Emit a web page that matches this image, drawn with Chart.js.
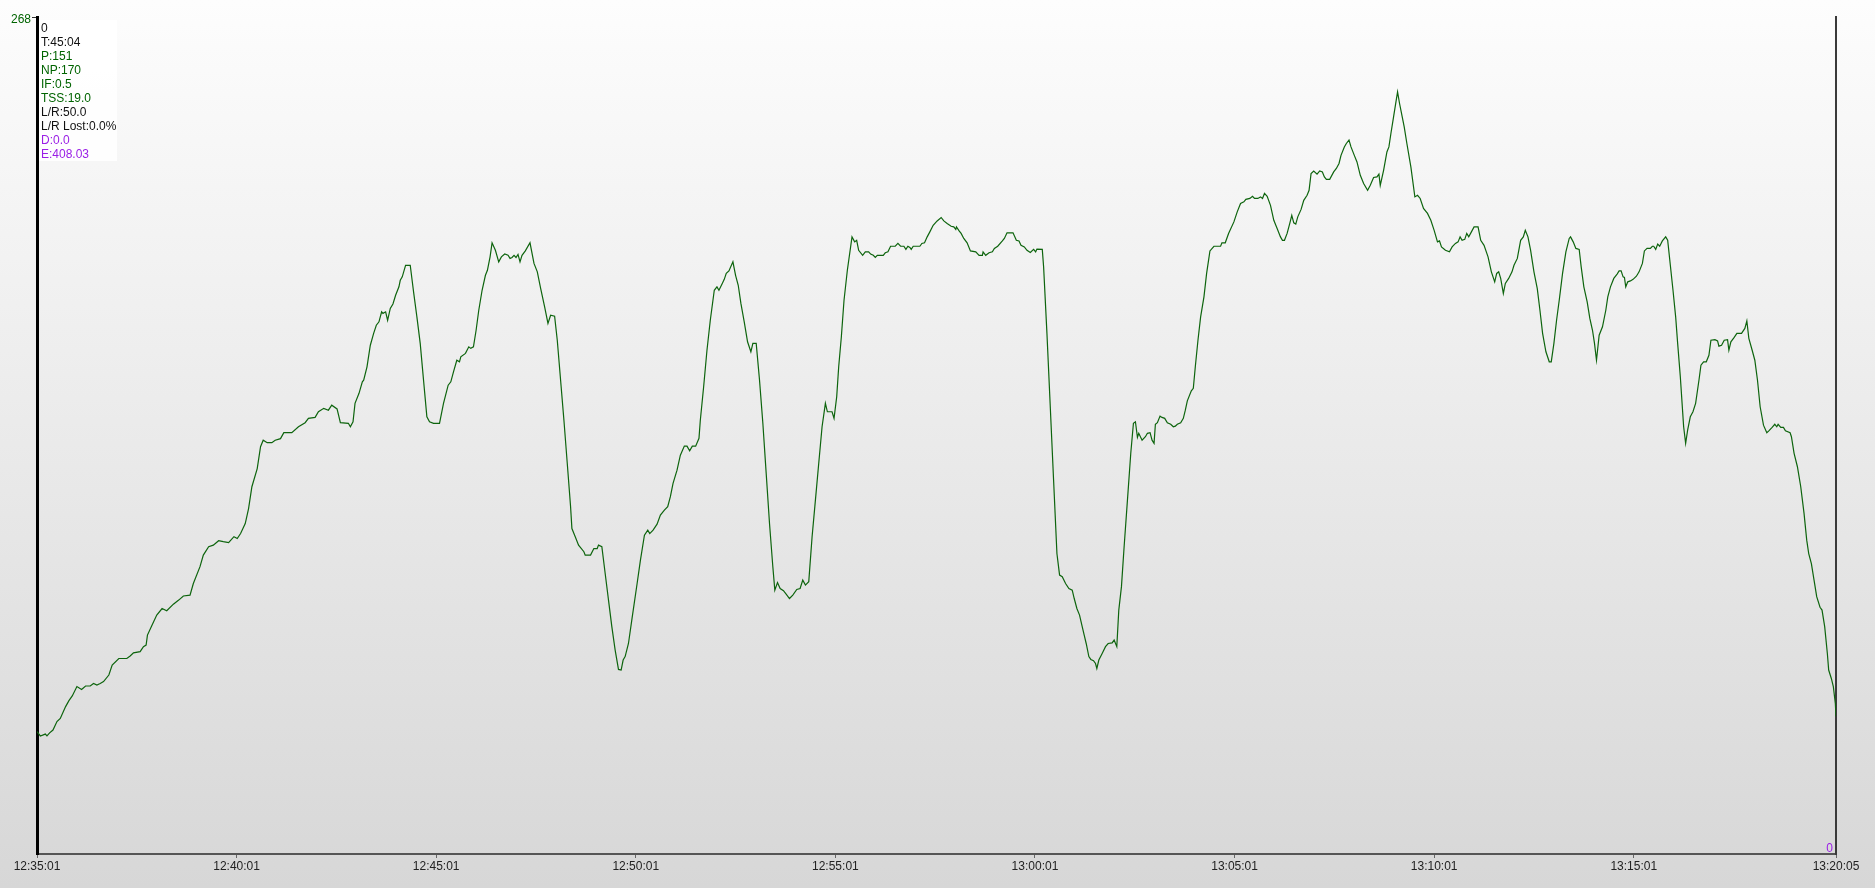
<!DOCTYPE html>
<html lang="en">
<head>
<meta charset="UTF-8">
<title>Ride power</title>
<script src="https://cdn.jsdelivr.net/npm/chart.js@4.4.1/dist/chart.umd.min.js"></script>
<style>
  html, body { margin: 0; padding: 0; background: #fdfdfd; }
  .wrap { width: 1875px; height: 888px; }
</style>
</head>
<body>
<div class="wrap"><canvas id="ride"></canvas></div>
<script>
// elapsed seconds from 12:35:01 and power (W)
const seconds = [
  0, 5, 12.5, 15, 19, 24, 30, 35, 43, 48, 53, 60, 67, 73, 80, 85, 90, 95, 100, 108,
  113, 123, 135, 140, 145, 155, 160, 164, 166, 173, 180, 188, 195, 205, 213, 220, 230, 235, 245, 250,
  258, 265, 273, 280, 288, 296, 301, 306, 313, 318, 323, 331, 336, 340, 346, 353, 358, 366, 371, 383,
  393, 403, 408, 418, 423, 431, 438, 443,
  451, 456, 468, 471, 475, 478, 484, 489, 491, 496, 501, 506, 510, 514, 518, 520, 524, 527, 531, 535,
  539, 544, 546, 549, 554, 561, 566, 571, 576, 581, 586, 590, 596, 605, 611, 618, 622, 626, 631, 635,
  637, 644, 649, 652, 656, 660, 664, 669, 674, 677, 681, 684, 689, 694, 698, 703, 708, 711, 714, 717,
  720, 723, 726, 729, 734, 741, 747, 752, 757, 763, 768, 772, 778, 782, 787, 792, 797, 802, 804, 809,
  814, 822, 824, 832, 837, 842, 844, 849, 854, 859, 864, 869, 874, 878, 881, 884, 889, 894,
  902, 907, 913, 918, 921, 926, 932, 937, 943, 948, 952, 956, 962, 967, 973, 977, 981, 985, 990, 995,
  997, 1002, 1007, 1012, 1018, 1022, 1025, 1030, 1033, 1036, 1040, 1046, 1050, 1054, 1058, 1063, 1068, 1073, 1076, 1081,
  1086, 1091, 1096, 1101, 1106, 1109, 1113, 1117, 1122, 1126, 1131, 1136, 1142, 1147, 1151, 1155, 1160, 1165, 1170, 1175,
  1180, 1185, 1188, 1195, 1198, 1202, 1205, 1209, 1213, 1218, 1225, 1229, 1232, 1235, 1241, 1245, 1250, 1253, 1257, 1260,
  1263, 1272, 1275, 1279, 1283, 1290, 1294, 1298, 1303, 1306, 1309, 1312, 1314, 1317, 1327, 1330, 1334, 1338, 1342, 1347,
  1353, 1359, 1363, 1368, 1374, 1378, 1381, 1382, 1386, 1389, 1393, 1398, 1403, 1411, 1416, 1421, 1422, 1426, 1431, 1436,
  1439, 1444, 1451, 1454, 1458, 1467, 1472, 1476, 1479, 1484, 1488, 1493, 1498, 1501, 1503, 1511, 1513, 1518, 1523, 1528,
  1533, 1537, 1541, 1546, 1551, 1556, 1559, 1563, 1567, 1571, 1574, 1577, 1581, 1584, 1588, 1591, 1593, 1596, 1601, 1606,
  1610, 1616, 1619, 1623, 1626, 1630, 1634, 1639, 1644, 1648, 1651, 1654, 1656, 1661, 1666, 1669, 1673, 1676, 1679, 1681,
  1684, 1688, 1691, 1695, 1699, 1704, 1708, 1711, 1714, 1719, 1723, 1726, 1729, 1735, 1738, 1741, 1745, 1749, 1754, 1758,
  1763, 1769, 1779, 1781, 1786, 1791, 1799,
  1804, 1809, 1814, 1817, 1823, 1827, 1830, 1835, 1839, 1842, 1845, 1849, 1854, 1859, 1864, 1869, 1872, 1875, 1879, 1883,
  1886, 1889, 1892, 1895, 1900, 1904, 1909, 1912, 1915, 1919, 1924, 1928, 1932, 1935, 1938, 1943, 1949, 1953, 1957, 1960,
  1965, 1968, 1972, 1975, 1980, 1984, 1989, 1994, 2000, 2004, 2009, 2014, 2017, 2019, 2024, 2029, 2032, 2035, 2039, 2043,
  2045, 2048, 2052, 2055, 2059, 2065, 2071, 2075, 2079, 2084, 2090, 2095, 2100, 2105, 2108, 2111, 2117, 2123, 2127, 2132,
  2136, 2139, 2142, 2146, 2149, 2152, 2156, 2160, 2166, 2170, 2175, 2181, 2186, 2191, 2194, 2197, 2200, 2204, 2207, 2212,
  2217, 2220, 2225, 2230, 2234, 2237, 2241, 2245, 2250,
  2255, 2259, 2263, 2268, 2273, 2276, 2280, 2284, 2288, 2293, 2298, 2303, 2305, 2309, 2313, 2318, 2321, 2325, 2330, 2334,
  2338, 2341, 2344, 2348, 2353, 2358, 2361, 2365, 2370, 2375, 2378, 2381, 2384, 2386, 2388, 2391, 2395, 2399, 2404, 2408,
  2413, 2416, 2420, 2425, 2428, 2430, 2433, 2436, 2439, 2443, 2448, 2451, 2455, 2459, 2463, 2466, 2470, 2475, 2478, 2481,
  2485, 2489, 2493, 2498, 2501, 2505, 2509, 2513, 2516, 2522, 2526, 2528, 2532, 2536, 2541, 2543, 2546, 2551, 2555, 2558,
  2562, 2567, 2570, 2573, 2578, 2582, 2586, 2590, 2595, 2600, 2603, 2608, 2612, 2615, 2617, 2621, 2625, 2628, 2635, 2637,
  2641, 2646, 2651, 2656, 2660, 2663, 2667, 2671, 2675, 2680, 2683, 2687, 2691, 2693, 2697, 2700, 2703, 2704
];
const watts = [
  39.2, 37.8, 38.4, 37.8, 38.8, 39.7, 42.4, 43.4, 47.2, 49.1, 50.6, 53.6, 52.7, 53.8, 53.8, 54.6, 54.1, 54.6, 55.2, 57.3,
  60.5, 62.6, 62.6, 63.4, 64.4, 64.8, 66.4, 66.9, 70.1, 73.3, 76.5, 78.6, 77.9, 80.0, 81.3, 82.6, 82.9, 86.6, 92.0, 95.7,
  98.4, 98.9, 100.3, 100.0, 99.7, 101.6, 101.0, 102.6, 105.8, 110.6, 117.6, 123.4, 130.4, 132.5, 131.7, 131.7, 132.5, 133.0, 134.9, 134.9,
  136.8, 138.1, 139.5, 139.8, 141.6, 142.7, 142.1, 143.7,
  142.5, 138.1, 137.9, 136.8, 138.4, 144.3, 147.5, 151.2, 151.7, 156.0, 162.9, 166.7, 169.3, 170.4, 173.6, 173.1, 173.6, 170.9, 174.7, 176.1,
  178.9, 181.6, 183.7, 184.8, 188.5, 188.5, 180.0, 172.0, 163.5, 151.7, 140.0, 138.4, 137.9, 137.9, 144.3, 150.1, 151.2, 154.4, 158.1, 157.6,
  159.2, 160.3, 162.4, 161.9, 162.4, 167.7, 174.1, 180.5, 185.3, 186.9, 191.2, 195.7, 193.3, 189.6, 191.2, 192.1, 191.7, 190.7, 191.0, 191.7,
  191.0, 192.0, 189.6, 191.7, 193.1, 195.7, 189.1, 186.4, 181.1, 175.2, 169.9, 172.5, 172.2, 164.5, 151.7, 138.9, 125.1, 111.2, 104.2, 101.6,
  98.9, 96.8, 95.7, 95.7, 97.8, 97.8, 98.9, 98.4, 89.8, 81.3, 72.8, 65.3, 59.1, 58.9, 62.1, 63.2, 67.4, 74.9,
  86.6, 94.1, 102.1, 103.7, 102.6, 103.7, 105.6, 108.5, 110.1, 111.2, 114.4, 118.7, 122.9, 127.7, 130.6, 130.6, 129.1, 130.6, 130.6, 133.1,
  138.9, 149.6, 161.3, 170.9, 180.5, 181.6, 180.5, 182.7, 184.0, 185.9, 186.7, 189.6, 185.3, 182.1, 176.3, 170.4, 164.0, 160.8, 163.5, 163.5,
  151.7, 137.9, 121.9, 105.8, 92.0, 84.5, 86.9, 85.0, 84.3, 83.2, 81.8, 82.9, 84.7, 85.0, 87.7, 86.1, 87.2, 101.6, 113.3, 125.1,
  136.8, 144.3, 141.6, 141.6, 139.5, 146.4, 156.0, 165.6, 177.3, 186.9, 197.6, 196.0, 196.5, 193.3, 191.7, 192.8, 192.8, 192.1, 191.7, 191.0,
  191.7, 191.7, 192.5, 192.8, 194.6, 194.6, 195.5, 194.6, 194.6, 193.6, 194.6, 194.2, 193.6, 194.6, 194.6, 195.5, 195.7, 197.6, 199.2, 201.3,
  202.7, 203.8, 202.7, 201.9, 201.0, 200.8, 200.0, 200.8, 199.5, 198.7, 197.1, 195.7, 193.1, 192.8, 191.7, 191.7, 192.8, 191.7, 192.5, 192.8,
  193.9, 194.6, 196.3, 197.1, 198.9, 198.9, 196.5, 196.3, 194.9, 194.4, 193.3, 192.6, 193.6, 192.8, 193.7, 193.6, 188.0, 166.7, 143.2, 119.7,
  96.2, 89.3, 88.8, 86.6, 85.0, 84.5, 81.8, 78.6, 76.5, 72.8, 70.1, 67.4, 63.2, 62.3, 61.9, 61.0, 59.4, 62.1, 64.2, 66.4,
  67.4, 67.6, 68.5, 66.4, 78.1, 85.6, 98.4, 113.3, 128.3, 137.9, 138.4, 133.4, 134.7, 132.5, 133.6, 134.7, 134.9, 132.5, 131.5, 137.6,
  138.1, 140.2, 139.8, 139.5, 138.1, 137.6, 136.8, 137.0, 137.6, 138.1, 139.5, 142.1, 145.1, 148.3, 149.1, 156.0, 164.5, 172.0, 178.4, 185.9,
  193.1, 194.6, 194.6, 195.7, 195.7, 198.7, 202.4,
  205.6, 208.3, 208.8, 209.6, 209.9, 210.6, 209.9, 209.9, 210.4, 209.9, 211.5, 210.6, 207.7, 202.9, 200.3, 197.6, 196.5, 196.5, 198.7, 201.9,
  204.5, 202.1, 201.7, 204.0, 206.4, 209.3, 210.9, 212.5, 217.9, 218.7, 217.7, 218.7, 218.4, 216.8, 216.0, 216.0, 218.4, 219.5, 221.1, 223.7,
  226.4, 227.5, 228.6, 226.4, 223.7, 221.6, 217.3, 214.7, 212.5, 214.1, 216.6, 216.8, 217.7, 214.1, 218.9, 224.8, 226.4, 230.7, 236.0, 241.4,
  244.0, 240.3, 236.0, 232.8, 227.5, 220.0, 210.4, 210.9, 209.9, 206.7, 205.1, 202.9, 199.7, 196.0, 196.3, 194.4, 193.3, 192.8, 194.4, 195.5,
  196.0, 197.6, 196.5, 196.8, 198.7, 197.6, 199.2, 200.8, 200.8, 196.5, 194.9, 191.2, 186.4, 183.2, 185.9, 186.4, 184.3, 179.5, 182.7, 184.3,
  186.4, 188.5, 190.7, 196.5, 197.6, 199.7, 197.6, 193.3, 186.4,
  181.0, 174.1, 166.7, 160.8, 157.6, 157.6, 163.5, 170.9, 177.3, 185.9, 192.8, 197.1, 197.6, 196.0, 193.9, 193.6, 188.0, 181.6, 176.8, 171.5,
  167.7, 163.5, 158.1, 166.1, 168.8, 174.1, 178.4, 181.6, 184.3, 185.7, 186.7, 186.7, 184.8, 184.6, 181.6, 183.2, 183.5, 184.0, 185.0, 186.4,
  189.1, 193.1, 193.9, 193.9, 194.6, 194.6, 193.6, 195.3, 194.6, 196.3, 197.6, 196.5, 188.5, 180.5, 172.0, 163.5, 152.8, 136.8, 131.5, 135.7,
  140.0, 141.6, 144.3, 151.7, 156.5, 157.6, 157.6, 159.7, 164.5, 164.7, 164.3, 162.6, 162.9, 164.5, 164.7, 161.3, 164.0, 165.4, 166.7, 166.7,
  166.7, 168.3, 170.7, 165.1, 161.3, 158.1, 151.7, 143.2, 137.3, 134.9, 135.5, 136.6, 137.6, 136.8, 137.6, 136.6, 136.6, 135.5, 134.9, 133.6,
  128.3, 124.0, 117.6, 109.0, 100.5, 96.2, 93.0, 87.7, 82.4, 79.0, 78.1, 72.8, 64.2, 58.9, 56.2, 53.6, 48.2, 44.0
];
const tickSeconds = [0, 300, 600, 900, 1200, 1500, 1800, 2100, 2400, 2704];
const tickLabels = ['12:35:01', '12:40:01', '12:45:01', '12:50:01', '12:55:01', '13:00:01',
                    '13:05:01', '13:10:01', '13:15:01', '13:20:05'];
const yMax = 268;
const summaryLines = ['0', 'T:45:04', 'P:151', 'NP:170', 'IF:0.5', 'TSS:19.0', 'L/R:50.0', 'L/R Lost:0.0%', 'D:0.0', 'E:408.03'];
const summaryColors = ['#111', '#111', '#006400', '#006400', '#006400', '#006400', '#111', '#111', '#9a1ee6', '#9a1ee6'];

const FONT = '"Liberation Sans", Arial, sans-serif';
Chart.defaults.font.family = FONT;
Chart.defaults.font.size = 12;

// grey gradient behind everything
const backdrop = {
  id: 'backdrop',
  beforeDraw(chart) {
    const c = chart.ctx;
    const g = c.createLinearGradient(0, 0, 0, chart.height);
    g.addColorStop(0, '#fdfdfd');
    g.addColorStop(1, '#d7d7d7');
    c.save();
    c.fillStyle = g;
    c.fillRect(0, 0, chart.width, chart.height);
    c.restore();
  }
};

// ride summary box in the top left corner
const summary = {
  id: 'summary',
  afterDraw(chart) {
    const c = chart.ctx;
    const left = chart.chartArea.left;
    const top = chart.chartArea.top;
    c.save();
    c.fillStyle = 'rgba(255,255,255,0.85)';
    c.fillRect(left + 2, top + 3, 78, 141);
    c.font = '12px ' + FONT;
    c.textBaseline = 'middle';
    summaryLines.forEach((txt, i) => {
      c.fillStyle = summaryColors[i];
      c.fillText(txt, left + 4, top + 12 + i * 14);
    });
    c.restore();
  }
};

new Chart(document.getElementById('ride'), {
  type: 'line',
  data: {
    datasets: [{
      data: seconds.map((s, i) => ({ x: s, y: watts[i] })),
      borderColor: '#0d640d',
      borderWidth: 1.2,
      pointRadius: 0,
      tension: 0,
      fill: false
    }]
  },
  options: {
    responsive: true,
    maintainAspectRatio: false,
    animation: false,
    layout: { padding: { top: 17, left: 0, right: 0, bottom: 0 } },
    plugins: { legend: { display: false }, tooltip: { enabled: false } },
    scales: {
      x: {
        type: 'linear',
        min: 0,
        max: tickSeconds[tickSeconds.length - 1],
        afterBuildTicks: s => { s.ticks = tickSeconds.map(v => ({ value: v })); },
        afterFit: s => { s.height = 34; },
        ticks: {
          autoSkip: false,
          maxRotation: 0,
          color: '#222',
          padding: 1,
          callback: (v, i) => tickLabels[i]
        },
        grid: { drawOnChartArea: false, tickLength: 4, color: '#666' },
        border: { color: '#555', width: 2 }
      },
      y: {
        position: 'left',
        min: 0,
        max: yMax,
        afterBuildTicks: s => { s.ticks = [{ value: yMax }]; },
        afterFit: s => { s.width = 37; },
        ticks: { color: '#006400', padding: 1, labelOffset: 3 },
        grid: { drawOnChartArea: false, tickLength: 5, color: '#333' },
        border: { color: '#000', width: 3 }
      },
      y2: {
        position: 'right',
        min: 0,
        max: yMax,
        afterBuildTicks: s => { s.ticks = [{ value: 0 }]; },
        afterFit: s => { s.width = 39; },
        ticks: { mirror: true, color: '#9a1ee6', padding: -3, labelOffset: -5 },
        grid: { drawOnChartArea: false, drawTicks: false },
        border: { color: '#3a3a3a', width: 2 }
      }
    }
  },
  plugins: [backdrop, summary]
});
</script>
</body>
</html>
